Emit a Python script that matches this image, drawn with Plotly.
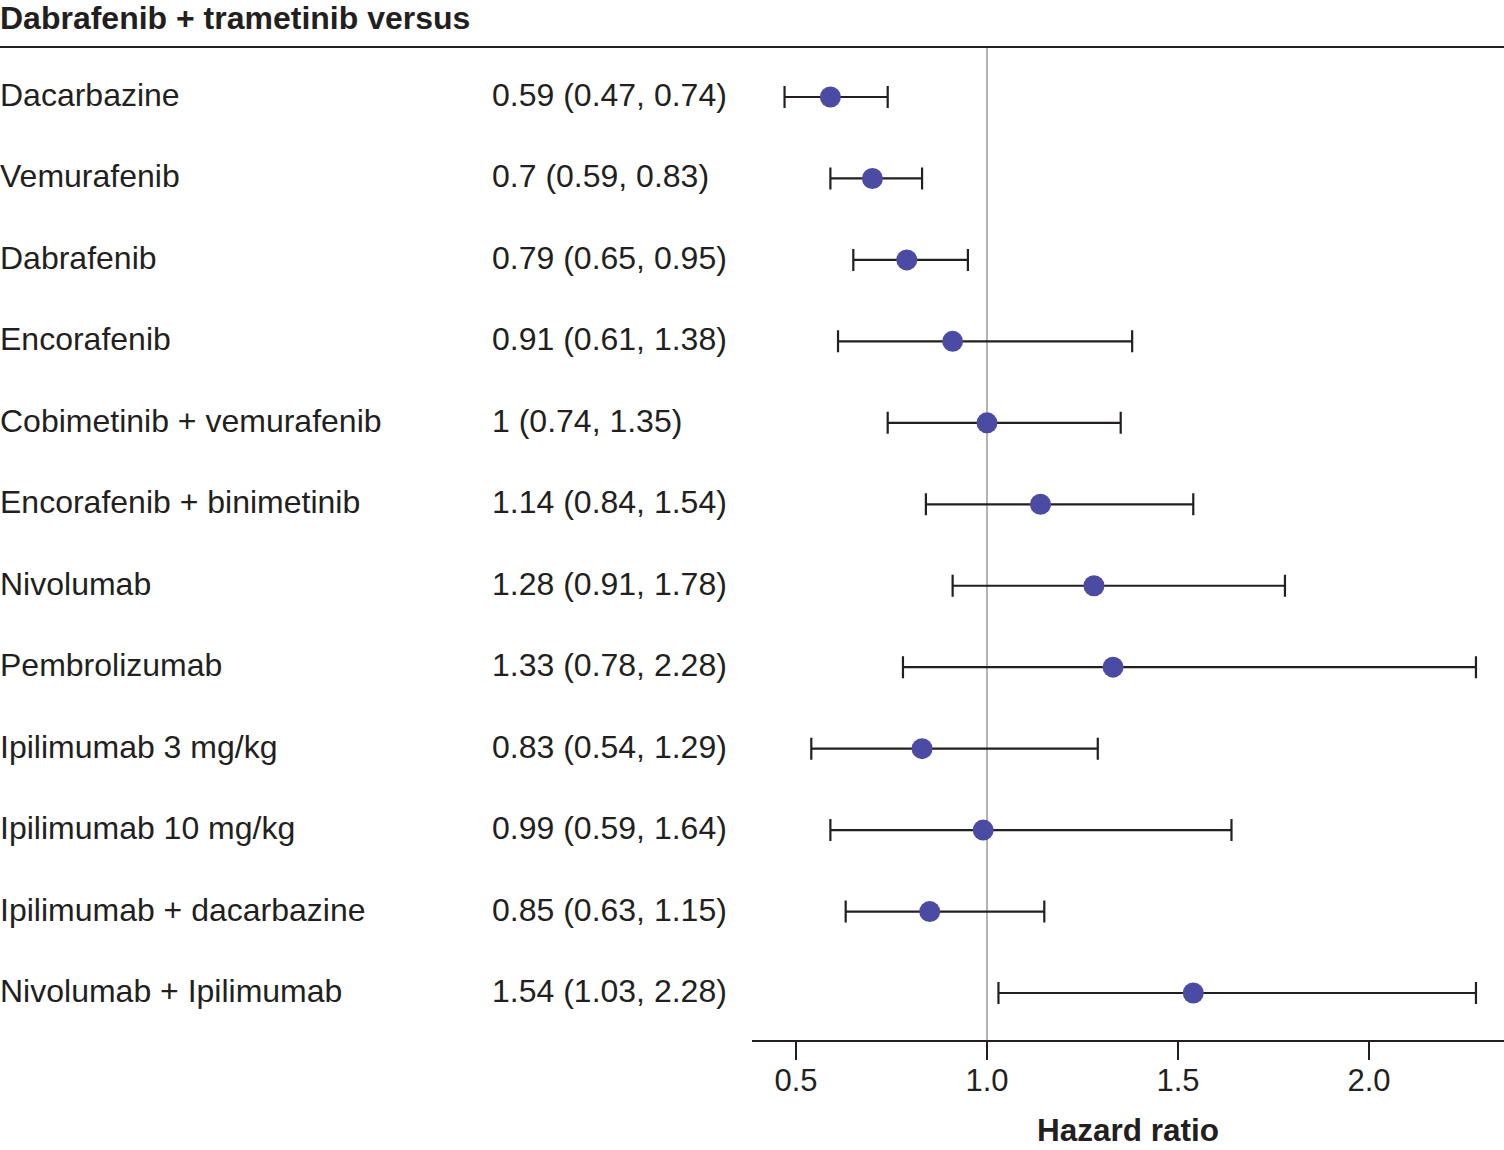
import plotly.graph_objects as go

# Forest plot data: hazard ratio (95% CI), dabrafenib + trametinib versus ...
treatments = [
    "Dacarbazine",
    "Vemurafenib",
    "Dabrafenib",
    "Encorafenib",
    "Cobimetinib + vemurafenib",
    "Encorafenib + binimetinib",
    "Nivolumab",
    "Pembrolizumab",
    "Ipilimumab 3 mg/kg",
    "Ipilimumab 10 mg/kg",
    "Ipilimumab + dacarbazine",
    "Nivolumab + Ipilimumab",
]
hr = [0.59, 0.7, 0.79, 0.91, 1.0, 1.14, 1.28, 1.33, 0.83, 0.99, 0.85, 1.54]
ci_low = [0.47, 0.59, 0.65, 0.61, 0.74, 0.84, 0.91, 0.78, 0.54, 0.59, 0.63, 1.03]
ci_high = [0.74, 0.83, 0.95, 1.38, 1.35, 1.54, 1.78, 2.28, 1.29, 1.64, 1.15, 2.28]
hr_labels = [
    "0.59 (0.47, 0.74)",
    "0.7 (0.59, 0.83)",
    "0.79 (0.65, 0.95)",
    "0.91 (0.61, 1.38)",
    "1 (0.74, 1.35)",
    "1.14 (0.84, 1.54)",
    "1.28 (0.91, 1.78)",
    "1.33 (0.78, 2.28)",
    "0.83 (0.54, 1.29)",
    "0.99 (0.59, 1.64)",
    "0.85 (0.63, 1.15)",
    "1.54 (1.03, 2.28)",
]
tick_vals = [0.5, 1.0, 1.5, 2.0]
tick_text = ["0.5", "1.0", "1.5", "2.0"]

FONT = "Liberation Sans, Arial, sans-serif"
TEXT = "#231f20"
rows = list(range(len(treatments)))

fig = go.Figure()

fig.add_trace(
    go.Scatter(
        x=hr,
        y=rows,
        mode="markers",
        marker=dict(size=21, color="#4b4ba3"),
        error_x=dict(
            type="data",
            symmetric=False,
            array=[h - x for x, h in zip(hr, ci_high)],
            arrayminus=[x - l for x, l in zip(hr, ci_low)],
            color=TEXT,
            thickness=2.2,
            width=11,
        ),
        showlegend=False,
        hoverinfo="skip",
    )
)

# reference line at HR = 1
fig.add_shape(
    type="line", xref="x", yref="paper", x0=1, x1=1, y0=0, y1=1,
    line=dict(color="#b3b3b3", width=2), layer="below",
)
# rule under the heading
fig.add_shape(
    type="line", xref="paper", yref="paper", x0=-1, x1=1, y0=1, y1=1,
    line=dict(color=TEXT, width=2),
)

for i, (name, lab) in enumerate(zip(treatments, hr_labels)):
    fig.add_annotation(
        x=0, xref="paper", y=i, yref="y", yshift=2, xshift=-2, text=name, showarrow=False,
        xanchor="left", yanchor="middle", font=dict(size=32, color=TEXT, family=FONT),
    )
    fig.add_annotation(
        x=492 / 1504, xref="paper", y=i, yref="y", yshift=2, xshift=-2, text=lab, showarrow=False,
        xanchor="left", yanchor="middle", font=dict(size=32, color=TEXT, family=FONT),
    )

# heading above the rule
fig.add_annotation(
    x=0, xref="paper", y=1 + 29 / 993, yref="paper", yanchor="middle", xanchor="left",
    xshift=-2, text="<b>Dabrafenib + trametinib versus</b>", showarrow=False,
    font=dict(size=32, color=TEXT, family=FONT),
)

fig.update_layout(
    width=1504,
    height=1150,
    margin=dict(l=0, r=0, t=47, b=110),
    plot_bgcolor="white",
    paper_bgcolor="white",
    font=dict(family=FONT, color=TEXT),
    xaxis=dict(
        domain=[0.5, 1.0],
        range=[0.3848, 2.3534],
        tickvals=tick_vals,
        ticktext=tick_text,
        ticks="outside",
        ticklen=18,
        tickwidth=2,
        tickcolor=TEXT,
        ticklabelstandoff=-6,
        showline=True,
        linewidth=2,
        linecolor=TEXT,
        showgrid=False,
        zeroline=False,
        tickfont=dict(size=31, color=TEXT),
        title=dict(text="<b>Hazard ratio</b>", font=dict(size=31.5, color=TEXT), standoff=22),
    ),
    yaxis=dict(
        range=[11.577, -0.614],
        visible=False,
        showgrid=False,
        zeroline=False,
    ),
)

fig.write_html(
    "out.html",
    config={"displayModeBar": False},
    post_script="document.body.style.margin='0';",
)
